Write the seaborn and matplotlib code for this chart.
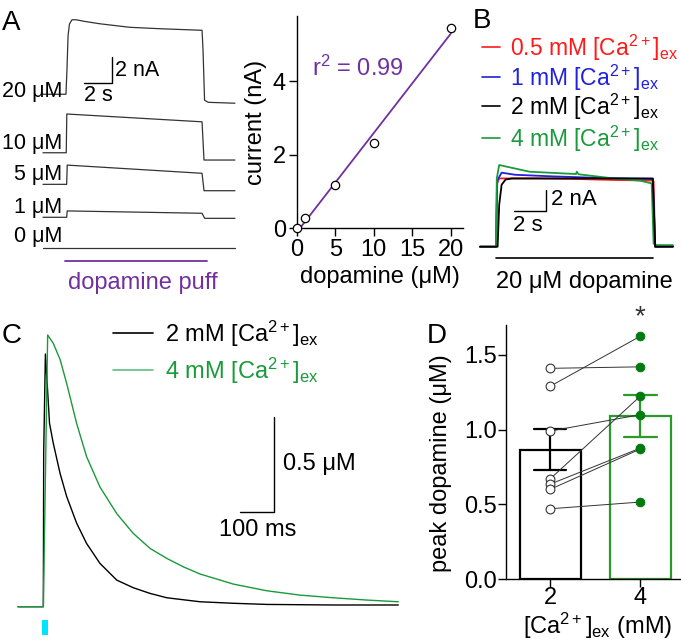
import numpy as np
import pandas as pd
import matplotlib
matplotlib.use("Agg")
import matplotlib.pyplot as plt
import seaborn as sns

# ---------------- data ----------------
# Panel A (traces): time (s) and current (nA), relative to each trace's baseline
a_labels = ["20 μM", "10 μM", "5 μM", "1 μM", "0 μM"]
a20_t = [0, 1.64, 1.71, 1.79, 1.89, 2.07, 2.36, 3.0, 4.07, 6.2, 8.36, 11.36, 11.43, 11.54, 11.8, 13.71]
a20_i = [0, 0, 1.85, 4.5, 5.4, 5.73, 5.73, 5.6, 5.42, 5.15, 5.04, 4.92, 3.4, -0.46, -0.62, -0.69]
a10_t = [0, 1.66, 1.70, 11.36, 11.50, 13.71]
a10_i = [0, 0, 2.98, 2.38, -0.56, -0.56]
a5_t = [0, 1.69, 1.73, 11.36, 11.50, 13.71]
a5_i = [0, 0, 1.48, 0.85, -0.49, -0.49]
a1_t = [0, 1.69, 1.73, 11.36, 11.55, 13.71]
a1_i = [0, 0, 0.49, 0.31, -0.08, -0.08]
a0_t = [0, 13.71]
a0_i = [0, 0]

# Panel A (dose-response)
dose = [0, 1, 5, 10, 20]
peak_current = [0.0, 0.27, 1.17, 2.32, 5.45]

# Panel B traces: time (s), current (nA)
b_names = ["0.5 mM", "1 mM", "2 mM", "4 mM"]
b_red_t = [-1.0, 0.0, 0.06, 0.2, 2.5, 5.0, 7.5, 9.75, 9.85, 9.95, 11.06]
b_red_i = [0, 0, 6.0, 6.5, 6.5, 6.45, 6.35, 6.3, 6.2, 0, 0.05]
b_blue_t = [-1.0, 0.0, 0.08, 0.35, 1.2, 3.5, 6.5, 9.8, 9.95, 11.06]
b_blue_i = [0, 0, 6.3, 7.05, 6.85, 6.7, 6.55, 6.45, 0, 0]
b_black_t = [-1.0, 0.1, 0.2, 0.35, 0.6, 1.0, 9.8, 9.95, 11.06]
b_black_i = [0, 0, 4.0, 5.9, 6.4, 6.5, 6.5, 0, 0]
b_green_t = [-1.0, 0.0, 0.05, 0.2, 2.1, 5.0, 5.05, 5.15, 7.3, 9.0, 9.73, 9.85, 10.05, 11.06]
b_green_i = [0, 0, 6.5, 7.78, 7.14, 6.92, 7.14, 6.9, 6.51, 6.29, 6.03, 0.3, 0.15, 0.15]

# Panel C traces: time (ms), dopamine (µM)
c2_t = [-73, 0, 1, 2, 7, 15, 19, 30, 50, 69, 98, 127, 166, 215, 263, 312, 361, 458, 555, 652, 846, 1036]
c2_v = [0, 0, 0, 0.81, 1.33, 1.09, 0.965, 0.86, 0.70, 0.58, 0.44, 0.333, 0.228, 0.14, 0.10, 0.07, 0.047,
        0.026, 0.018, 0.012, 0.009, 0.009]
c4_t = [-73, 0, 1, 13.6, 30, 50, 69, 98, 127, 166, 215, 263, 312, 361, 409, 458, 555, 652, 749, 846, 944, 1036]
c4_v = [0, 0, 0, 1.43, 1.386, 1.30, 1.175, 0.965, 0.79, 0.63, 0.49, 0.386, 0.307, 0.254, 0.21, 0.172,
        0.119, 0.084, 0.061, 0.047, 0.035, 0.026]

# Panel D: paired peak dopamine (µM)
d_ca_levels = ["2", "4"]
d_2mm = [1.41, 1.29, 0.99, 0.67, 0.635, 0.60, 0.47]
d_4mm = [1.42, 1.625, 1.10, 1.224, 0.876, 0.87, 0.515]

# ---------------- style ----------------
sns.set_theme(style="ticks")
plt.rcParams["font.family"] = ["Liberation Sans", "DejaVu Sans"]
plt.rcParams["mathtext.fontset"] = "custom"
plt.rcParams["mathtext.rm"] = "Liberation Sans"
plt.rcParams["mathtext.it"] = "Liberation Sans:italic"
plt.rcParams["mathtext.bf"] = "Liberation Sans:bold"
plt.rcParams["font.size"] = 17
for k in ["text.color", "axes.labelcolor", "xtick.color", "ytick.color", "axes.edgecolor"]:
    plt.rcParams[k] = "black"

PURPLE = "#7030a0"
GREEN = "#1a9a3a"
DGREEN = "#2a9a2a"
PT_GREEN = "#007a10"
RED = "#ff1a1a"
BLUE = "#2020e0"

W, H = 681, 641
fig = plt.figure(figsize=(W / 100, H / 100), dpi=100)


def axpx(x0, y0, x1, y1):
    return fig.add_axes([x0 / W, 1 - y1 / H, (x1 - x0) / W, (y1 - y0) / H])


CA = r"[Ca$^{\mathregular{2+}}$]$_{\mathregular{ex}}$"

# ---------------- Panel A traces ----------------
axA = axpx(0, 0, 240, 300)
axA.set_xlim(-43 / 14, (240 - 43) / 14)
axA.set_ylim((248.3 - 300) / 13, 248.3 / 13)
axA.axis("off")
a_offsets = [11.85, 7.35, 4.92, 2.385, 0.0]
a_label_dy = [-0.25, 0.25, 0.3, 0.3, 0.45]
a_traces = [(a20_t, a20_i), (a10_t, a10_i), (a5_t, a5_i), (a1_t, a1_i), (a0_t, a0_i)]
for (t, i), off, lab, dy in zip(a_traces, a_offsets, a_labels, a_label_dy):
    sns.lineplot(x=t, y=np.array(i) + off, ax=axA, color="#333333", lw=0.9,
                 sort=False, estimator=None)
    axA.text(1.36, off + dy, lab, ha="right", va="baseline", fontsize=15.5)
# scale bar 2 s / 2 nA
axA.plot([2.93, 4.93, 4.93], [12.72, 12.72, 14.72], color="black", lw=1)
axA.text(5.15, 13.7, "2 nA", ha="left", va="center", fontsize=15.5)
axA.text(3.93, 12.55, "2 s", ha="center", va="top", fontsize=15.5)
# dopamine puff
axA.plot([1.57, 11.71], [-0.98, -0.98], color=PURPLE, lw=1.3)
axA.text(7.14, -2.65, "dopamine puff", color=PURPLE, ha="center", va="center", fontsize=17)

# ---------------- Panel A dose-response ----------------
axS = axpx(297, 16, 463, 228.3)
slope, intercept = np.polyfit(dose, peak_current, 1)
x0 = -intercept / slope
sns.lineplot(x=[x0, dose[-1]], y=[0, slope * dose[-1] + intercept], ax=axS, color=PURPLE, lw=1.3)
sns.scatterplot(x=dose, y=peak_current, ax=axS, s=36, facecolor="white", edgecolor="black",
                linewidth=0.9, zorder=5, clip_on=False)
axS.set_xlim(0, 21.6)
axS.set_ylim(0, 5.78)
axS.set_xticks([0, 5, 10, 15, 20])
axS.set_yticks([0, 2, 4])
sns.despine(ax=axS)
for s in ["left", "bottom"]:
    axS.spines[s].set_linewidth(1)
axS.tick_params(length=6, width=1, pad=2, labelsize=17)
axS.set_xlabel("dopamine (μM)", fontsize=17, labelpad=3)
axS.set_ylabel("current (nA)", fontsize=17, labelpad=4)
axS.text(2.0, 4.35, r"r$^{\mathregular{2}}$ = 0.99", color=PURPLE, fontsize=17, ha="left", va="center")

# ---------------- Panel B ----------------
axB = axpx(470, 150, 681, 300)
axB.set_xlim((470 - 496) / 16, (681 - 496) / 16)
axB.set_ylim((246.7 - 300) / 10.5, (246.7 - 150) / 10.5)
axB.axis("off")
b_traces = [(b_red_t, b_red_i, RED), (b_blue_t, b_blue_i, BLUE),
            (b_green_t, b_green_i, GREEN), (b_black_t, b_black_i, "black")]
for t, i, c in b_traces:
    sns.lineplot(x=t, y=i, ax=axB, color=c, lw=1.3, sort=False, estimator=None)
axB.plot([1.1, 3.1, 3.1], [3.4, 3.4, 5.4], color="black", lw=1)
axB.text(3.45, 4.45, "2 nA", ha="left", va="center", fontsize=16)
axB.text(2.0, 3.0, "2 s", ha="center", va="top", fontsize=16)
axB.plot([0, 9.8], [-1.08, -1.08], color="black", lw=1.2)
axB.text(5.5, -3.4, "20 μM dopamine", ha="center", va="center", fontsize=17)

# ---------------- Panel C ----------------
axC = axpx(0, 300, 400, 641)
axC.set_xlim(-43 / 0.343, (400 - 43) / 0.343)
axC.set_ylim((606.7 - 641) / 190, (606.7 - 300) / 190)
axC.axis("off")
sns.lineplot(x=c2_t, y=c2_v, ax=axC, color="black", lw=1.0, sort=False, estimator=None)
sns.lineplot(x=c4_t, y=c4_v, ax=axC, color=GREEN, lw=1.0, sort=False, estimator=None)
axC.plot([574, 674, 674], [0.5, 0.5, 1.0], color="black", lw=1)
axC.text(700, 0.753, "0.5 μM", ha="left", va="center", fontsize=17)
axC.text(627, 0.405, "100 ms", ha="center", va="center", fontsize=17)
axC.fill_between([-3, 14.6], [-0.07, -0.07], [-0.148, -0.148], color="#00e5ff", lw=0)

# ---------------- Panel D ----------------
axD = axpx(506, 325, 680, 579)
df = pd.DataFrame({"ca": ["2"] * len(d_2mm) + ["4"] * len(d_4mm), "peak": d_2mm + d_4mm})
for lev, ec in zip(d_ca_levels, ["black", DGREEN]):
    sns.barplot(data=df[df.ca == lev], x="ca", y="peak", order=d_ca_levels, ax=axD,
                color="white", saturation=1, edgecolor=ec, linewidth=1.6, width=0.68,
                errorbar="se", capsize=0.36, err_kws={"color": ec, "linewidth": 1.6})
for a, b in zip(d_2mm, d_4mm):
    axD.plot([0, 1], [a, b], color="#333333", lw=0.7, zorder=4)
sns.scatterplot(x=[0] * len(d_2mm), y=d_2mm, ax=axD, s=40, facecolor="white", edgecolor="#333333",
                linewidth=0.8, zorder=5)
sns.scatterplot(x=[1] * len(d_4mm), y=d_4mm, ax=axD, s=40, color=PT_GREEN, edgecolor=PT_GREEN,
                linewidth=0.6, zorder=5)
axD.set_xlim(-0.49, 1.44)
axD.set_ylim(0, 1.70)
axD.set_yticks([0, 0.5, 1.0, 1.5])
axD.set_yticklabels(["0.0", "0.5", "1.0", "1.5"])
sns.despine(ax=axD)
for s in ["left", "bottom"]:
    axD.spines[s].set_linewidth(1)
axD.tick_params(length=5.5, width=1, pad=1, labelsize=17)
axD.tick_params(axis="x", pad=0)
axD.set_xlabel(CA + " (mM)", fontsize=17)
axD.set_ylabel("peak dopamine (μM)", fontsize=17)
axD.xaxis.set_label_coords((598 - 506) / 174, -(611 - 579) / 254)
axD.yaxis.set_label_coords((452 - 506) / 174, (579 - 463) / 254)
axD.text(1, 1.75, "*", ha="center", va="center", fontsize=20, color="#333333", clip_on=False)

# ---------------- overlay: panel letters and legends ----------------
ov = fig.add_axes([0, 0, 1, 1])
ov.set_xlim(0, W)
ov.set_ylim(H, 0)
ov.axis("off")
for lab, (x, y) in zip("ABCD", [(2, 30), (473, 28), (2, 343), (427, 343)]):
    ov.text(x, y, lab, fontsize=20, ha="left", va="baseline")

b_leg_y = [47, 77, 106, 138]
b_leg_c = [RED, BLUE, "black", GREEN]
for name, y, c in zip(b_names, b_leg_y, b_leg_c):
    ov.plot([482, 500], [y, y], color=c, lw=1.2)
    ov.text(510, y + 8.5, name + " " + CA, color=c, fontsize=16.5, ha="left", va="baseline")

c_leg_y = [333, 370]
for name, y, c in zip(["2 mM", "4 mM"], c_leg_y, ["black", "#5fbf7f"]):
    ov.plot([113, 153], [y, y], color=c, lw=1.2)
    ov.text(165, y + 8.5, name + " " + CA, color=("black" if c == "black" else GREEN),
            fontsize=17, ha="left", va="baseline")

fig.savefig("out.png", dpi=100)
